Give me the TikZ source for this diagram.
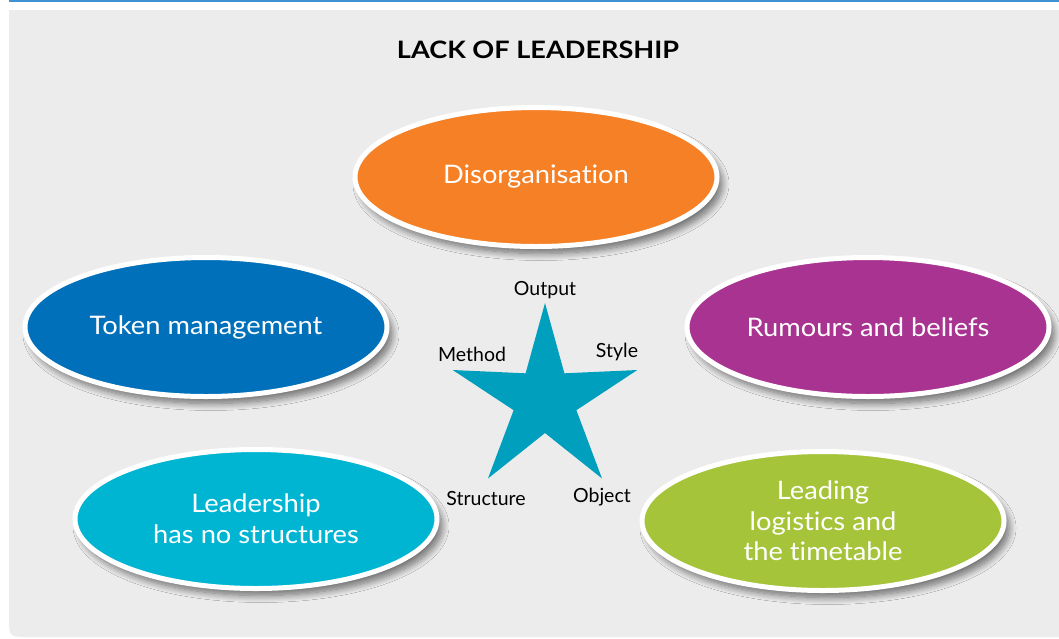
\documentclass[tikz,border=0pt]{standalone}
\usepackage{fontspec}
\setmainfont[RawFeature={-liga;-calt;-rlig;-dlig}]{Lato}
\newfontfamily\ovalfont[FakeStretch=1.07,RawFeature={-liga;-calt;-rlig;-dlig}]{Lato}
\newfontfamily\titlefont[FakeStretch=1.13,RawFeature={-liga;-calt;-rlig;-dlig}]{Lato}
\usetikzlibrary{shapes.geometric,shadows.blur,calc}
\definecolor{panelgray}{HTML}{ECECEC}
\definecolor{topblue}{HTML}{3F93D3}
\definecolor{orangeC}{HTML}{F58025}
\definecolor{blueC}{HTML}{0070BA}
\definecolor{purpleC}{HTML}{A93391}
\definecolor{cyanC}{HTML}{00B5D2}
\definecolor{greenC}{HTML}{A6C43A}
\definecolor{starC}{HTML}{009FBD}
\tikzset{
  oval/.style={ellipse, draw=white, line width=5pt, minimum width=362pt, minimum height=139pt,
    inner sep=0pt, text=white, font=\ovalfont\fontsize{25.5}{31}\selectfont, align=center,
    blur shadow={shadow xshift=5pt, shadow yshift=-7pt, shadow blur radius=7pt, shadow blur steps=12, shadow opacity=55}},
  starlabel/.style={font=\fontsize{19.5}{22}\selectfont, text=black, inner sep=0pt},
}
\begin{document}
\begin{tikzpicture}[x=1pt,y=-1pt]
\useasboundingbox (0,0) rectangle (1059,638);
\fill[white] (0,0) rectangle (1059,638);
\fill[panelgray] (9,10) -- (1060,10) -- (1060,637) -- (29,637) .. controls (9,637) .. (9,617) -- cycle;
\draw[topblue, line width=1.6pt] (9,0.8) -- (1059,0.8);
\node[font=\titlefont\bfseries\fontsize{24}{28}\selectfont, inner sep=0pt] (title) at (538,50) {LACK OF LEADERSHIP};
\node[oval, fill=orangeC] (dis) at (536,177) {Disorganisation};
\node[oval, fill=blueC] (tok) at (206,327) {Token management};
\node[oval, fill=purpleC] (rum) at (868,327) {Rumours and beliefs};
\node[oval, fill=cyanC] (lead) at (256,519) {Leadership\\has no structures};
\node[oval, fill=greenC, font=\ovalfont\fontsize{25.5}{30.5}\selectfont] (log) at (823,521) {Leading\\logistics and\\the timetable};
\coordinate (sc) at (545,400);
\fill[starC] ($(sc)+(-90:97)$) -- ($(sc)+(-54:33)$) -- ($(sc)+(-18:97)$) -- ($(sc)+(18:33)$)
  -- ($(sc)+(54:97)$) -- ($(sc)+(90:33)$) -- ($(sc)+(126:97)$) -- ($(sc)+(162:33)$)
  -- ($(sc)+(198:97)$) -- ($(sc)+(234:33)$) -- cycle;
\node[starlabel] (out) at (545,290) {Output};
\node[starlabel] (meth) at (472,354) {Method};
\node[starlabel] (sty) at (617,352) {Style};
\node[starlabel] (str) at (486,499) {Structure};
\node[starlabel] (obj) at (602,497) {Object};
\end{tikzpicture}
\end{document}
